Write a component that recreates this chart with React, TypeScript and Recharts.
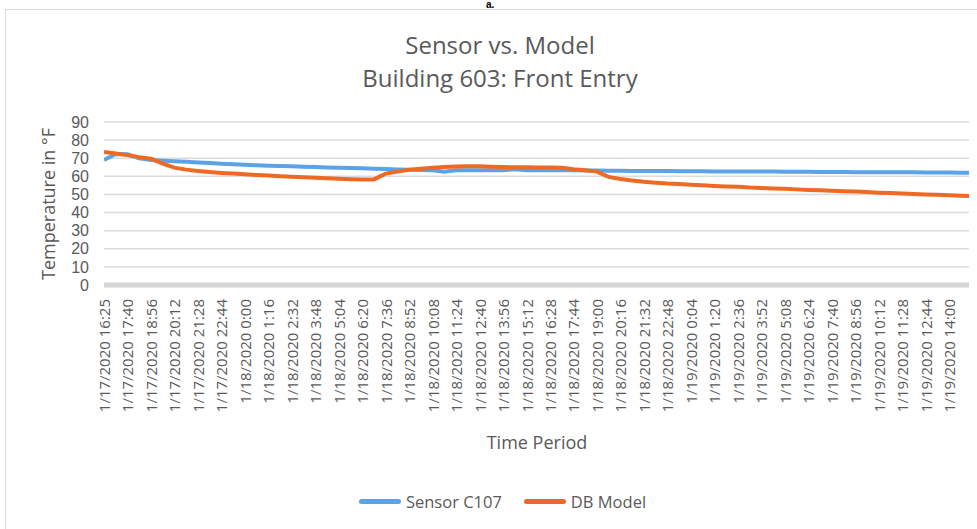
import React from "react";
import { LineChart, Line, XAxis, YAxis, CartesianGrid, Legend } from "recharts";

const tickLabels = [
  "1/17/2020 16:25", "1/17/2020 17:40", "1/17/2020 18:56", "1/17/2020 20:12", "1/17/2020 21:28", "1/17/2020 22:44",
  "1/18/2020 0:00", "1/18/2020 1:16", "1/18/2020 2:32", "1/18/2020 3:48", "1/18/2020 5:04", "1/18/2020 6:20",
  "1/18/2020 7:36", "1/18/2020 8:52", "1/18/2020 10:08", "1/18/2020 11:24", "1/18/2020 12:40", "1/18/2020 13:56",
  "1/18/2020 15:12", "1/18/2020 16:28", "1/18/2020 17:44", "1/18/2020 19:00", "1/18/2020 20:16", "1/18/2020 21:32",
  "1/18/2020 22:48", "1/19/2020 0:04", "1/19/2020 1:20", "1/19/2020 2:36", "1/19/2020 3:52", "1/19/2020 5:08",
  "1/19/2020 6:24", "1/19/2020 7:40", "1/19/2020 8:56", "1/19/2020 10:12", "1/19/2020 11:28", "1/19/2020 12:44",
  "1/19/2020 14:00",
];

const yTicks = [0, 10, 20, 30, 40, 50, 60, 70, 80, 90];

// samples every half label interval (~38 min)
const sensorValues = [
  69.0, 72.3, 72.2, 70.0, 69.0, 68.6, 68.3, 68.0, 67.6, 67.3,
  67.0, 66.7, 66.4, 66.1, 65.9, 65.7, 65.5, 65.3, 65.1, 64.9,
  64.8, 64.6, 64.4, 64.2, 64.0, 63.8, 63.6, 63.5, 63.4, 62.6,
  63.3, 63.3, 63.3, 63.4, 63.4, 63.9, 63.4, 63.4, 63.4, 63.3,
  63.3, 63.2, 63.2, 63.1, 63.1, 63.0, 63.0, 62.9, 62.9, 62.8,
  62.8, 62.8, 62.7, 62.7, 62.7, 62.6, 62.6, 62.6, 62.5, 62.5,
  62.5, 62.4, 62.4, 62.4, 62.3, 62.3, 62.3, 62.2, 62.2, 62.2,
  62.1, 62.1, 62.1, 62.0, 62.0,
];

const modelValues = [
  73.5, 72.6, 71.7, 70.6, 69.7, 67.0, 64.8, 63.7, 63.0, 62.4,
  61.9, 61.5, 61.1, 60.7, 60.4, 60.1, 59.8, 59.5, 59.2, 58.9,
  58.6, 58.4, 58.3, 58.3, 61.5, 62.6, 63.6, 64.2, 64.8, 65.2,
  65.4, 65.5, 65.5, 65.3, 65.1, 65.0, 65.0, 64.9, 64.9, 64.7,
  63.9, 63.3, 62.6, 59.7, 58.5, 57.7, 57.0, 56.5, 56.0, 55.7,
  55.4, 55.1, 54.7, 54.4, 54.2, 53.8, 53.6, 53.3, 53.1, 52.8,
  52.5, 52.3, 52.0, 51.8, 51.6, 51.3, 51.0, 50.8, 50.5, 50.3,
  50.0, 49.8, 49.5, 49.3, 49.1,
];

const seriesNames = ["Sensor C107", "DB Model"];
const seriesColors = ["#5BA3E6", "#EE6A24"];

const data = sensorValues.map((s, i) => ({
  t: i / 2,
  sensor: s,
  model: modelValues[i],
}));

const FONT = "'Open Sans', 'Noto Sans', sans-serif";
const TEXT = "#595959";

const XTick = (props: any) => {
  const { x, y, payload } = props;
  return (
    <text
      x={x}
      y={y + 6}
      transform={`rotate(-90, ${x}, ${y + 6})`}
      textAnchor="end"
      dominantBaseline="central"
      fontFamily={FONT}
      fontSize={15}
      fill={TEXT}
    >
      {tickLabels[payload.value]}
    </text>
  );
};

const LegendContent = (props: any) => {
  const payload = [...(props.payload || [])].sort(
    (a: any, b: any) => seriesNames.indexOf(a.value) - seriesNames.indexOf(b.value)
  );
  return (
    <div style={{ display: "flex", justifyContent: "center", alignItems: "center", fontFamily: FONT, fontSize: 16.5, color: TEXT }}>
      {payload.map((p: any, i: number) => (
        <div key={i} style={{ display: "flex", alignItems: "center", marginLeft: i === 0 ? 0 : 22 }}>
          <div style={{ width: 42, height: 5, borderRadius: 3, background: p.color, marginRight: 5 }} />
          <span>{p.value}</span>
        </div>
      ))}
    </div>
  );
};

export default function App() {
  return (
    <div style={{ position: "absolute", left: 0, top: 0, width: 977, height: 529, overflow: "hidden", background: "#fff" }}>
      <div style={{ position: "absolute", left: 486, top: 0, fontFamily: "Arial, sans-serif", fontWeight: 700, fontSize: 10, lineHeight: "10px", color: "#000" }}>a.</div>
      <div style={{ position: "absolute", left: 5, top: 9, width: 990, height: 540, border: "1px solid #d9d9d9", boxSizing: "border-box" }} />
      <div style={{ position: "absolute", left: 0, width: 1000, top: 28, textAlign: "center", fontFamily: FONT, fontSize: 24, color: TEXT, lineHeight: "33px" }}>
        <div>Sensor vs. Model</div>
        <div>Building 603: Front Entry</div>
      </div>
      <svg style={{ position: "absolute", left: 0, top: 0 }} width={100} height={529}>
        <text
          x={48}
          y={204}
          transform="rotate(-90, 48, 204)"
          textAnchor="middle"
          dominantBaseline="central"
          fontFamily={FONT}
          fontSize={18}
          fill={TEXT}
        >
          Temperature in °F
        </text>
      </svg>
      <div style={{ position: "absolute", left: 437, width: 200, top: 430, textAlign: "center", fontFamily: FONT, fontSize: 18, color: TEXT }}>
        Time Period
      </div>
      <div style={{ position: "absolute", left: 0, top: 0 }}>
        <LineChart width={977} height={529} data={data} margin={{ top: 122, right: 8, left: 0, bottom: 94 }}>
          <CartesianGrid horizontal={true} vertical={false} stroke="#dcdcdc" strokeWidth={1.5} />
          <XAxis
            dataKey="t"
            type="number"
            domain={[0, 36.85]}
            allowDataOverflow
            ticks={tickLabels.map((_, i) => i)}
            interval={0}
            tick={<XTick />}
            tickLine={false}
            axisLine={{ stroke: "#d6d6d6", strokeWidth: 5 }}
            height={150}
          />
          <YAxis
            domain={[0, 90]}
            ticks={yTicks}
            interval={0}
            width={104}
            tickLine={false}
            axisLine={false}
            tickMargin={9}
            tick={{ fontFamily: "'Liberation Sans', Arial, sans-serif", fontSize: 16, fill: TEXT }}
          />
          <Legend
            layout="horizontal"
            verticalAlign="middle"
            align="center"
            wrapperStyle={{ top: 490, left: 14, width: 977 }}
            content={<LegendContent />}
          />
          <Line type="linear" dataKey="sensor" name={seriesNames[0]} stroke={seriesColors[0]} strokeWidth={4} dot={false} isAnimationActive={false} />
          <Line type="linear" dataKey="model" name={seriesNames[1]} stroke={seriesColors[1]} strokeWidth={4} dot={false} isAnimationActive={false} />
        </LineChart>
      </div>
    </div>
  );
}
